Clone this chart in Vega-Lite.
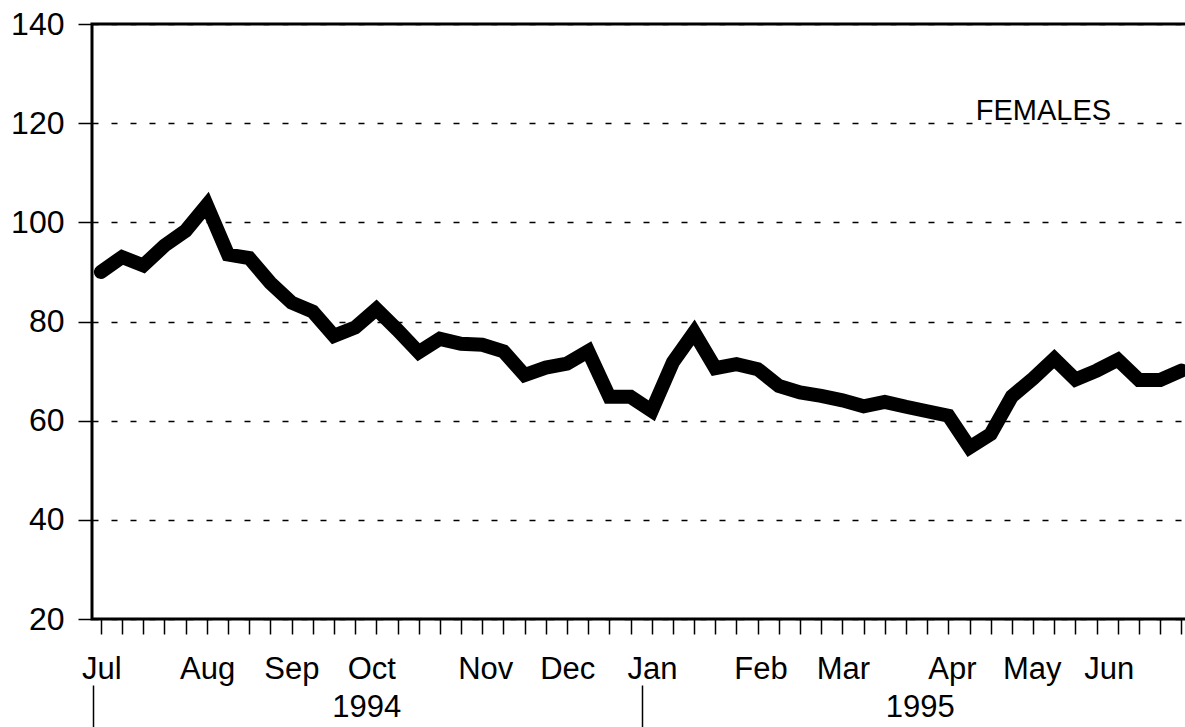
{
  "$schema": "https://vega.github.io/schema/vega-lite/v6.json",
  "autosize": "none",
  "padding": {"left": 92, "top": 24, "right": 0, "bottom": 108},
  "width": 1100,
  "height": 595,
  "background": "white",
  "config": {"view": {"stroke": "black", "strokeWidth": 3}, "font": "Liberation Sans"},
  "layer": [
    {
      "data": {"values": [
        {"week": 0, "value": 90}, {"week": 1, "value": 93}, {"week": 2, "value": 91.3}, {"week": 3, "value": 95.3},
        {"week": 4, "value": 98.3}, {"week": 5, "value": 103.5}, {"week": 6, "value": 93.5}, {"week": 7, "value": 92.8},
        {"week": 8, "value": 87.8}, {"week": 9, "value": 83.8}, {"week": 10, "value": 82}, {"week": 11, "value": 77.1},
        {"week": 12, "value": 78.8}, {"week": 13, "value": 82.5}, {"week": 14, "value": 78.3}, {"week": 15, "value": 73.8},
        {"week": 16, "value": 76.5}, {"week": 17, "value": 75.5}, {"week": 18, "value": 75.3}, {"week": 19, "value": 74},
        {"week": 20, "value": 69.2}, {"week": 21, "value": 70.7}, {"week": 22, "value": 71.5}, {"week": 23, "value": 74},
        {"week": 24, "value": 64.8}, {"week": 25, "value": 64.8}, {"week": 26, "value": 62}, {"week": 27, "value": 71.8},
        {"week": 28, "value": 77.8}, {"week": 29, "value": 70.6}, {"week": 30, "value": 71.4}, {"week": 31, "value": 70.4},
        {"week": 32, "value": 67}, {"week": 33, "value": 65.7}, {"week": 34, "value": 65}, {"week": 35, "value": 64.1},
        {"week": 36, "value": 62.9}, {"week": 37, "value": 63.8}, {"week": 38, "value": 62.8}, {"week": 39, "value": 61.9},
        {"week": 40, "value": 61}, {"week": 41, "value": 54.6}, {"week": 42, "value": 57.3}, {"week": 43, "value": 64.9},
        {"week": 44, "value": 68.5}, {"week": 45, "value": 72.5}, {"week": 46, "value": 68.3}, {"week": 47, "value": 70.1},
        {"week": 48, "value": 72.3}, {"week": 49, "value": 68.2}, {"week": 50, "value": 68.2}, {"week": 51, "value": 70.1}
      ]},
      "mark": {"type": "line", "color": "black", "strokeWidth": 14, "strokeJoin": "miter", "strokeCap": "round"},
      "encoding": {
        "x": {
          "field": "week", "type": "quantitative",
          "scale": {"domain": [-0.42, 51.5], "nice": false, "zero": false},
          "axis": {
            "title": null, "grid": false, "domain": false, "tickCount": 500,
            "values": [0,1,2,3,4,5,6,7,8,9,10,11,12,13,14,15,16,17,18,19,20,21,22,23,24,25,26,27,28,29,30,31,32,33,34,35,36,37,38,39,40,41,42,43,44,45,46,47,48,49,50,51,
                       -0.37, 25.53, 0.02, 5.01, 8.99, 12.76, 18.14, 22.01, 26.01, 31.13, 35.02, 40.17, 43.94, 47.57, 12.52, 38.65],
            "labelExpr": "datum.value == 0.02 ? 'Jul' : datum.value == 5.01 ? 'Aug' : datum.value == 8.99 ? 'Sep' : datum.value == 12.76 ? 'Oct' : datum.value == 18.14 ? 'Nov' : datum.value == 22.01 ? 'Dec' : datum.value == 26.01 ? 'Jan' : datum.value == 31.13 ? 'Feb' : datum.value == 35.02 ? 'Mar' : datum.value == 40.17 ? 'Apr' : datum.value == 43.94 ? 'May' : datum.value == 47.57 ? 'Jun' : datum.value == 12.52 ? '1994' : datum.value == 38.65 ? '1995' : ''",
            "tickColor": "black", "tickWidth": 1.5,
            "tickSize": {"condition": {"test": "datum.value == -0.37 || datum.value == 25.53", "value": 110}, "value": 15},
            "tickDash": {"condition": {"test": "datum.value == -0.37 || datum.value == 25.53", "value": [0, 66, 60, 0]}, "value": []},
            "tickOpacity": {"condition": {"test": "datum.value % 1 != 0 && datum.value != -0.37 && datum.value != 25.53", "value": 0}, "value": 1},
            "labelPadding": {"condition": {"test": "datum.value == 12.52 || datum.value == 38.65", "value": 58}, "value": 20},
            "labelFontSize": 31, "labelColor": "black", "labelFont": "Liberation Sans",
            "labelOverlap": false, "labelBound": false, "labelFlush": false, "labelBaseline": "top", "labelAlign": "center"
          }
        },
        "y": {
          "field": "value", "type": "quantitative",
          "scale": {"domain": [20, 140], "nice": false, "zero": false},
          "axis": {
            "title": null, "domain": false, "tickCount": 50,
            "values": [20, 40, 60, 80, 100, 120, 140],
            "tickSize": 14, "tickWidth": 1.5, "tickColor": "black",
            "labelFontSize": 32, "labelColor": "black", "labelFont": "Liberation Sans", "labelPadding": 14,
            "grid": true, "gridDash": [6, 13], "gridColor": "black", "gridWidth": 1.3
          }
        }
      }
    },
    {
      "data": {"values": [{"label": "FEMALES"}]},
      "mark": {"type": "text", "fontSize": 29, "font": "Liberation Sans", "fill": "black", "align": "center", "baseline": "alphabetic"},
      "encoding": {
        "x": {"datum": 44.49, "type": "quantitative"},
        "y": {"datum": 120.6, "type": "quantitative"},
        "text": {"field": "label", "type": "nominal"}
      }
    }
  ]
}
